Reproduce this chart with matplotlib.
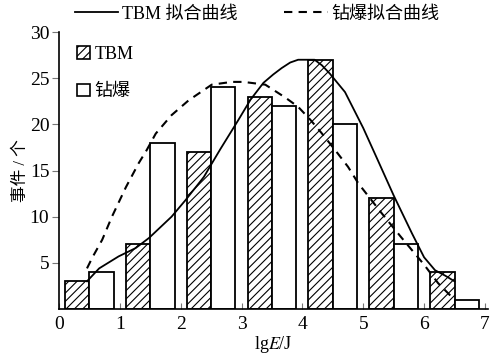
import matplotlib
matplotlib.use("Agg")
import matplotlib.pyplot as plt
import numpy as np
from matplotlib.lines import Line2D
from matplotlib.patches import Patch

plt.rcParams["font.family"] = ["Liberation Serif", "Noto Sans CJK SC"]
plt.rcParams["mathtext.fontset"] = "stix"
plt.rcParams["hatch.linewidth"] = 0.8

# -------------------------
# DATA
# -------------------------
bins = np.arange(7)
tbm_counts = [3, 7, 17, 23, 27, 12, 4]
drill_counts = [4, 18, 24, 22, 20, 7, 1]

tbm_fit_x = [0.46, 0.66, 0.98, 1.26, 1.48, 1.85, 2.08, 2.38, 2.65, 2.95, 3.15, 3.36, 3.52,
             3.66, 3.8, 3.93, 4.2, 4.32, 4.45, 4.7, 5.0, 5.22, 5.5, 5.8, 6.0, 6.18, 6.35, 6.5]
tbm_fit_y = [3.0, 4.4, 5.7, 6.6, 7.7, 10.0, 11.8, 14.3, 17.3, 20.5, 22.7, 24.5, 25.4,
             26.1, 26.7, 27.0, 27.0, 26.4, 25.5, 23.5, 19.6, 16.4, 12.3, 8.2, 5.6, 4.2, 3.6, 3.0]

drill_fit_x = [0.46, 0.55, 0.71, 0.87, 1.1, 1.31, 1.44, 1.59, 1.85, 2.13, 2.51, 2.84,
               3.03, 3.39, 3.72, 3.93, 4.13, 4.31, 4.54, 4.75, 4.92, 5.3, 5.62, 6.0, 6.23, 6.47]
drill_fit_y = [4.4, 5.6, 7.5, 10.0, 13.2, 15.8, 17.2, 19.0, 21.0, 22.6, 24.3, 24.6,
               24.6, 24.3, 22.9, 21.9, 20.5, 19.1, 17.2, 15.4, 13.6, 10.4, 7.8, 4.8, 2.8, 1.2]

cjk = ["Liberation Serif", "Noto Sans CJK SC"]

# -------------------------
# PLOT
# -------------------------
fig = plt.figure(figsize=(4.9, 3.56), dpi=100)
ax = fig.add_axes([0.1204, 0.132, 0.8755, 0.778])

ax.bar(bins + 0.3, tbm_counts, width=0.4, facecolor="white", edgecolor="black",
       hatch="////", linewidth=1.3, zorder=2)
ax.bar(bins + 0.7, drill_counts, width=0.4, facecolor="white", edgecolor="black",
       linewidth=1.3, zorder=2)

ax.plot(tbm_fit_x, tbm_fit_y, color="black", linewidth=1.3, zorder=3)
ax.plot(drill_fit_x, drill_fit_y, color="black", linewidth=1.5,
        linestyle=(0, (4, 3)), zorder=3)

ax.set_xlim(0, 7.05)
ax.set_ylim(0, 30)
ax.set_xticks(range(8))
ax.set_yticks([5, 10, 15, 20, 25, 30])
ax.tick_params(axis="x", direction="in", length=4, width=0.8, colors="#777777",
               labelcolor="black", labelsize=14, pad=5)
ax.tick_params(axis="y", direction="out", length=5, width=0.8, colors="#777777",
               labelcolor="black", labelsize=14, pad=2)
for side in ["top", "right"]:
    ax.spines[side].set_visible(False)
for side in ["left", "bottom"]:
    ax.spines[side].set_linewidth(1.2)

ax.set_xlabel("lg$\\mathit{E}$/J", fontsize=13, labelpad=1)
ax.set_ylabel("事件 / 个", fontsize=12, family=cjk)
ax.yaxis.set_label_coords(-0.071, 0.5)

inner_handles = [
    Patch(facecolor="white", edgecolor="black", hatch="////", linewidth=1.2, label="TBM"),
    Patch(facecolor="white", edgecolor="black", linewidth=1.2, label="钻爆"),
]
ax.legend(handles=inner_handles, loc="upper left", bbox_to_anchor=(0.005, 1.01),
          frameon=False, handlelength=0.7, handleheight=0.7, handletextpad=0.25,
          labelspacing=1.15, prop={"family": cjk, "size": 13})

top_handles = [
    Line2D([0], [0], color="black", linewidth=1.3, label="TBM 拟合曲线"),
    Line2D([0], [0], color="black", linewidth=1.5, linestyle=(0, (4, 3)), label="钻爆拟合曲线"),
]
fig.legend(handles=top_handles, loc="upper center", bbox_to_anchor=(0.525, 1.03), ncol=2,
           frameon=False, handlelength=2.4, handletextpad=0.2, columnspacing=2.6,
           prop={"family": cjk, "size": 13})

fig.savefig("out.png", dpi=100)
